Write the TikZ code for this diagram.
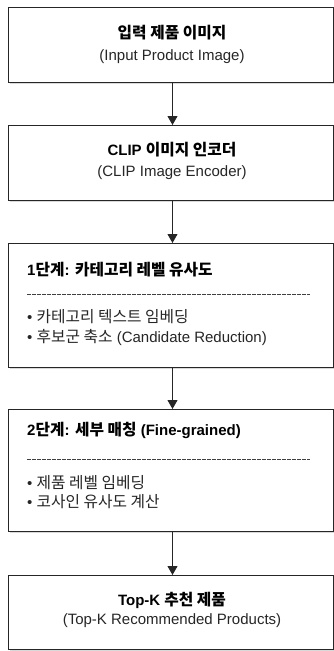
\documentclass[tikz,border=0pt]{standalone}
\usepackage{fontspec}
\setmainfont{Liberation Sans}
\newfontfamily\krfont{Noto Sans CJK KR}[Scale=1.05]
\newcommand\K[1]{{\krfont #1}}
\usetikzlibrary{arrows.meta,shadows}
\begin{document}
\begin{tikzpicture}[x=1pt,y=-1pt,
  font=\fontsize{15}{18}\selectfont,
  box/.style={draw=black!85, line width=1pt, fill=white, minimum width=325pt,
    anchor=north west, inner sep=0pt,
    drop shadow={shadow xshift=1.5pt, shadow yshift=-1.8pt, opacity=0.3}},
  arr/.style={-{Triangle[width=10pt,length=9pt]}, line width=0.9pt, black!85},
  title/.style={font=\fontsize{15}{18}\selectfont\bfseries, inner sep=0pt},
  sub/.style={inner sep=0pt, text=black!85},
  item/.style={inner sep=0pt, anchor=west, text=black!85},
  sep/.style={line width=1pt, black!75, dash pattern=on 3.5pt off 1.5pt}]
\useasboundingbox (0,0) rectangle (334,651);

\node[box, minimum height=75pt] (b1) at (8,7) {};
\node[box, minimum height=75pt] (b2) at (8,125) {};
\node[box, minimum height=124pt] (b3) at (8,243) {};
\node[box, minimum height=122pt] (b4) at (8,409) {};
\node[box, minimum height=74pt] (b5) at (8,575) {};

\node[title] (t1) at (172,33) {\K{\bfseries 입력 제품 이미지}};
\node[sub] (s1) at (172,57) {(Input Product Image)};

\node[title] (t2) at (172,150) {CLIP \K{\bfseries 이미지 인코더}};
\node[sub] (s2) at (172,173) {(CLIP Image Encoder)};

\node[title, anchor=west] (t3) at (27,270) {1\K{\bfseries 단계}: \K{\bfseries 카테고리 레벨 유사도}};
\coordinate (d3a) at (27,294);
\coordinate (d3b) at (310,294);
\draw[sep] (d3a) -- (d3b);
\node[item] (i31) at (27,317) {• \K{카테고리 텍스트 임베딩}};
\node[item] (i32) at (27,337) {• \K{후보군 축소} (Candidate Reduction)};

\node[title, anchor=west] (t4) at (27,430) {2\K{\bfseries 단계}: \K{\bfseries 세부 매칭} (Fine-grained)};
\coordinate (d4a) at (27,459);
\coordinate (d4b) at (310,459);
\draw[sep] (d4a) -- (d4b);
\node[item] (i41) at (27,483) {• \K{제품 레벨 임베딩}};
\node[item] (i42) at (27,502) {• \K{코사인 유사도 계산}};

\node[title] (t5) at (172,600) {Top-K \K{\bfseries 추천 제품}};
\node[sub] (s5) at (172,621) {(Top-K Recommended Products)};

\draw[arr] ([xshift=1.5pt]b1.south) -- ([xshift=1.5pt]b2.north);
\draw[arr] ([xshift=1.5pt]b2.south) -- ([xshift=1.5pt]b3.north);
\draw[arr] ([xshift=1.5pt]b3.south) -- ([xshift=1.5pt]b4.north);
\draw[arr] ([xshift=1.5pt]b4.south) -- ([xshift=1.5pt]b5.north);
\end{tikzpicture}
\end{document}
